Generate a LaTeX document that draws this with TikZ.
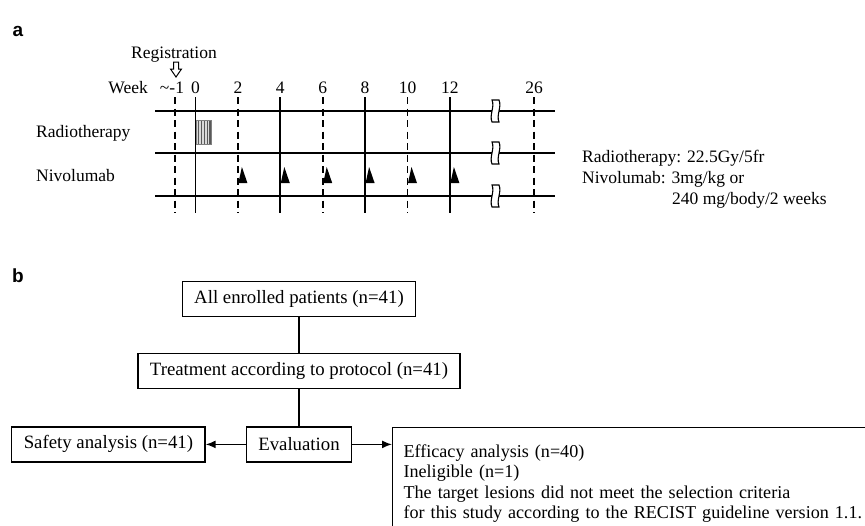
\documentclass[tikz,border=0pt]{standalone}
\usepackage{fontspec}
\setmainfont{Liberation Serif}
\setsansfont{Liberation Sans}
\usetikzlibrary{arrows.meta, positioning}

\begin{document}
\begin{tikzpicture}[
    x=1pt, y=-1pt,
    >={Latex[length=10pt,width=8pt]},
    node distance=36pt,
    panel/.style={font=\sffamily\bfseries\fontsize{19}{21}\selectfont, inner sep=0pt},
    lbl/.style={font=\fontsize{17.5}{20}\selectfont, inner sep=1pt},
    dose/.style={font=\fontsize{17.5}{20}\selectfont, inner sep=0pt, anchor=west},
    row/.style={line width=1.9pt},
    wkline/.style={line width=1.9pt},
    wkdash/.style={line width=1.8pt, dash pattern=on 7pt off 4.5pt},
    brk/.style={draw, fill=white, line width=1.1pt},
    box/.style={draw, line width=1.2pt, minimum height=35pt, inner xsep=12pt, font=\fontsize{18.8}{20.5}\selectfont},
    effbox/.style={box, anchor=north west, align=left, text width=520pt, inner xsep=11pt, inner ysep=17pt,
      font=\fontsize{18.1}{20.5}\selectfont},
    arrow/.style={->, line width=1.5pt},
    link/.style={line width=1.4pt},
  ]
  \useasboundingbox (0,0) rectangle (865,525);
  \clip (0,0) rectangle (865,525);

  % --- Panel a: schedule ---
  \node[panel] (pa) at (18,31) {a};
  \node[lbl] (reg) at (174,55) {Registration};
  \draw[fill=white, line width=1pt] (173.5,62) -- (178.5,62) -- (178.5,69) -- (181.5,69)
    -- (176,77) -- (170.5,69) -- (173.5,69) -- cycle;
  \node[lbl, anchor=east] (week) at (149,88) {Week};
  \node[lbl] (wkm1) at (172,88) {\textasciitilde-1};
  \foreach \w/\x in {0/195.5, 2/237.9, 4/280.3, 6/322.7, 8/365.1, 10/407.5, 12/449.9, 26/534}
    \node[lbl] (wk\w) at (\x,88) {\w};

  % week lines
  \foreach \x in {195.5, 280.3, 365.1, 449.9}
    \draw[wkline] (\x,97) -- (\x,213);
  \foreach \x in {175, 237.9, 322.7, 407.5, 534}
    \draw[wkdash] (\x,97) -- (\x,213);

  % rows with breaks
  \foreach \y in {111, 153, 196} {
    \draw[row] (155,\y) -- (555,\y);
    \draw[brk] (492,\y-11) -- (499,\y-11) .. controls (502,\y-4) and (496,\y+4) .. (499,\y+11)
      -- (492,\y+11) .. controls (489,\y+4) and (495,\y-4) .. (492,\y-11) -- cycle;
  }

  \node[lbl, anchor=west] (rt) at (35,133) {Radiotherapy};
  \node[lbl, anchor=west] (nivo) at (35,176) {Nivolumab};

  % radiotherapy fractions
  \fill[gray!30] (196.5,120) rectangle (211,144);
  \foreach \x in {198.5, 201.5, 204.5, 207.5, 210}
    \draw[gray!70!black, line width=1.1pt] (\x,120) -- (\x,144);
  \draw[gray, line width=0.6pt] (196.5,120) rectangle (211,144);

  % nivolumab doses
  \foreach \x in {237.9, 280.3, 322.7, 365.1, 407.5, 449.9}
    \fill (\x+0.5,183) -- (\x+4,167) -- (\x+9.5,183) -- cycle;

  \node[dose] (dose1) at (582,158) {Radiotherapy: 22.5Gy/5fr};
  \node[dose] (dose2) at (582,179) {Nivolumab: 3mg/kg or};
  \node[dose] (dose3) at (672,200) {240 mg/body/2 weeks};

  % --- Panel b: flow ---
  \node[panel] (pb) at (18,276) {b};
  \node[box] (enrolled) at (299,299) {All enrolled patients (n=41)};
  \node[box, below=36pt of enrolled] (treat) {Treatment according to protocol (n=41)};
  \node[box, below=37pt of treat] (evalbox) {Evaluation};
  \node[box, left=40pt of evalbox] (safety) {Safety analysis (n=41)};
  \node[effbox] (efficacy) at (392,427) {Efficacy analysis (n=40)\\
    Ineligible (n=1)\\
    The target lesions did not meet the selection criteria\\
    for this study according to the RECIST guideline version 1.1.\rule[-30pt]{0pt}{30pt}};

  \draw[link] (enrolled) -- (treat);
  \draw[link] (treat) -- (evalbox);
  \draw[arrow] (evalbox) -- (safety);
  \draw[arrow] (evalbox.east) -- (evalbox.east -| efficacy.west);

\end{tikzpicture}
\end{document}
